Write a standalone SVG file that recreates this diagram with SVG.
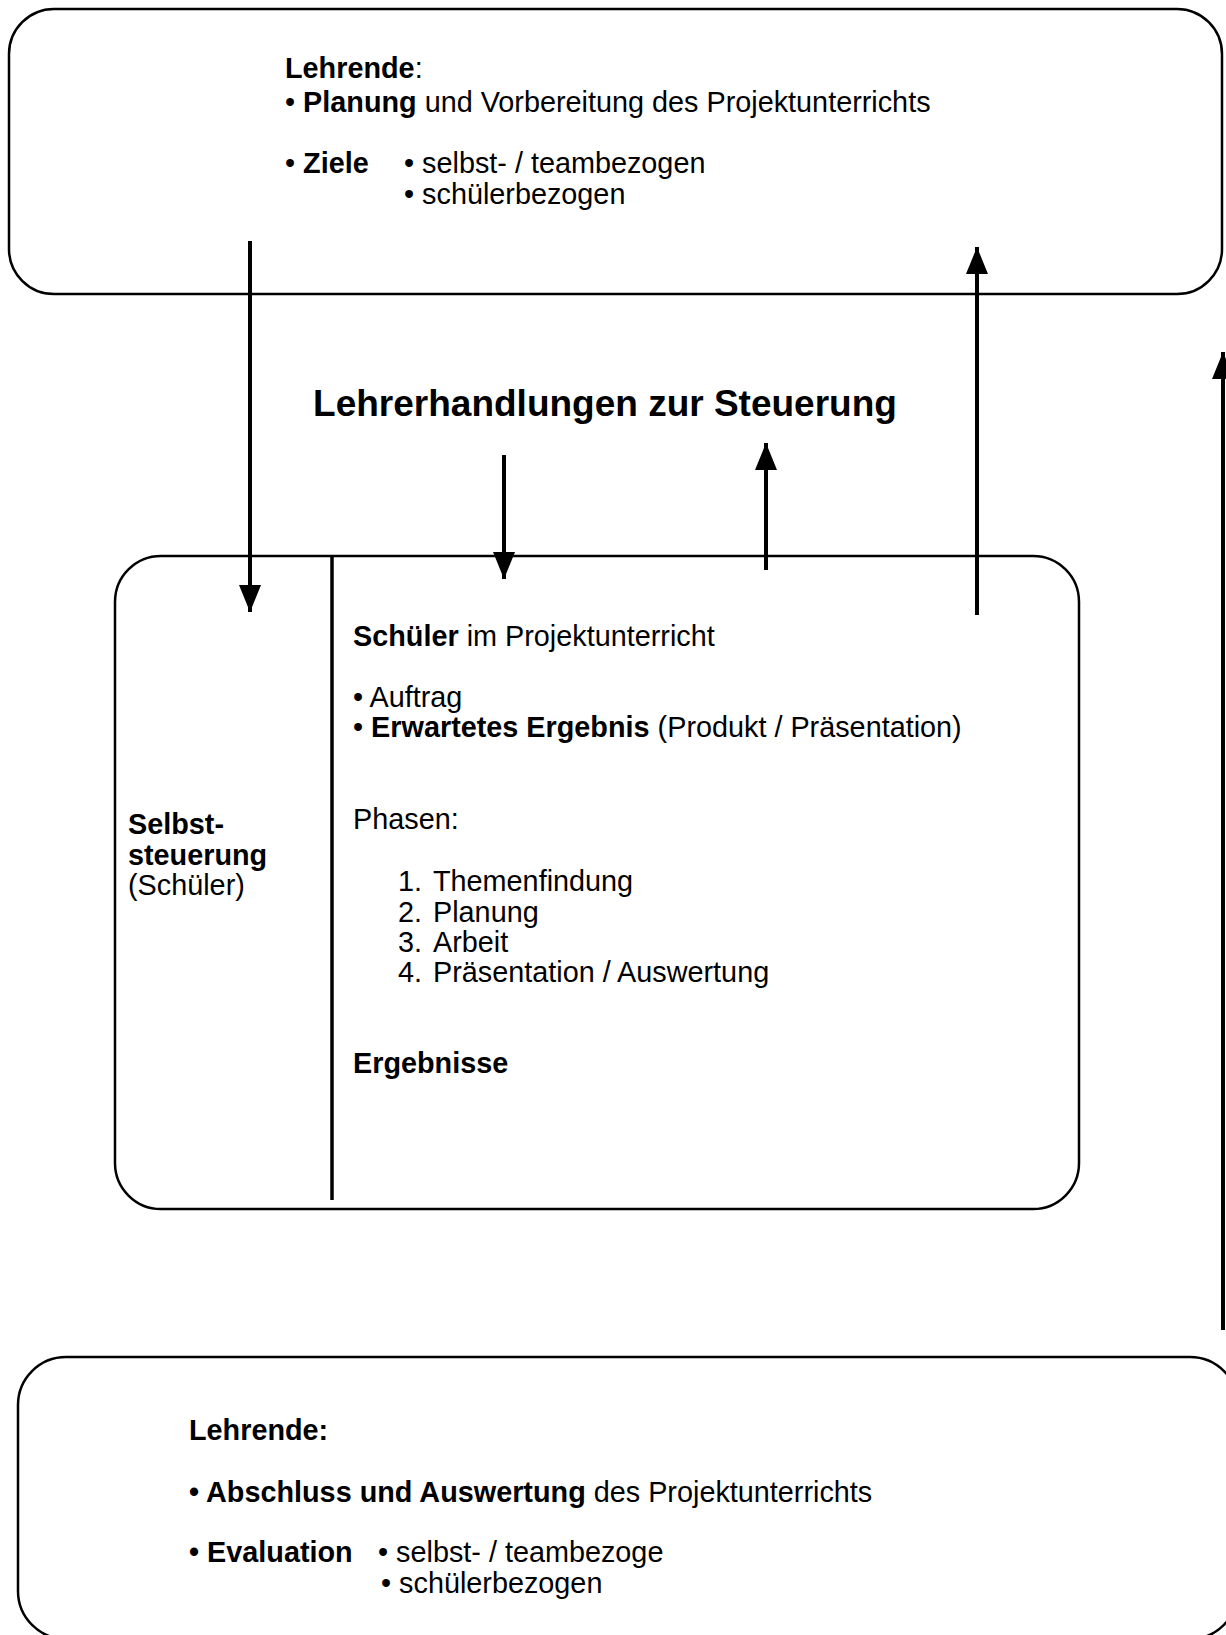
<svg xmlns="http://www.w3.org/2000/svg" width="1226" height="1635" viewBox="0 0 1226 1635">
<style>
.box{fill:none;stroke:#000;stroke-width:2.5}
.t{font-family:"Liberation Sans",Arial,sans-serif;font-size:28.8px;fill:#000}
.b{font-weight:bold}
.title{font-family:"Liberation Sans",Arial,sans-serif;font-size:37px;font-weight:bold;fill:#000}
.conn{stroke:#000;stroke-width:4;fill:none;marker-end:url(#ah)}
</style>
<defs>
<marker id="ah" markerUnits="userSpaceOnUse" markerWidth="27" markerHeight="22" refX="27" refY="11" orient="auto">
<path d="M0,0 L27,11 L0,22 z" fill="#000"/>
</marker>
</defs>
<rect width="1226" height="1635" fill="#fff"/>
<g id="top-box">
<rect class="box" x="9" y="9" width="1213" height="285" rx="45" ry="45"/>
<text class="t" x="285" y="78"><tspan class="b">Lehrende</tspan>:</text>
<text class="t" x="285" y="112">• <tspan class="b">Planung</tspan> und Vorbereitung des Projektunterrichts</text>
<text class="t" x="285" y="173">• <tspan class="b">Ziele</tspan></text>
<text class="t" x="404" y="173">• selbst- / teambezogen</text>
<text class="t" x="404" y="204">• schülerbezogen</text>
</g>
<g id="title">
<text class="title" x="605" y="416" text-anchor="middle">Lehrerhandlungen zur Steuerung</text>
</g>
<g id="middle-box">
<rect class="box" x="115" y="556" width="964" height="653" rx="46" ry="46"/>
<line x1="332" y1="556" x2="332" y2="1200" stroke="#000" stroke-width="3.5"/>
<text class="t b" x="128" y="834">Selbst-</text>
<text class="t b" x="128" y="865">steuerung</text>
<text class="t" x="128" y="895">(Schüler)</text>
<text class="t" x="353" y="646"><tspan class="b">Schüler</tspan> im Projektunterricht</text>
<text class="t" x="353" y="707">• Auftrag</text>
<text class="t" x="353" y="737">• <tspan class="b">Erwartetes Ergebnis</tspan> (Produkt / Präsentation)</text>
<text class="t" x="353" y="829">Phasen:</text>
<text class="t" x="398" y="891">1.</text><text class="t" x="433" y="891">Themenfindung</text>
<text class="t" x="398" y="922">2.</text><text class="t" x="433" y="922">Planung</text>
<text class="t" x="398" y="952">3.</text><text class="t" x="433" y="952">Arbeit</text>
<text class="t" x="398" y="982">4.</text><text class="t" x="433" y="982">Präsentation / Auswertung</text>
<text class="t b" x="353" y="1073">Ergebnisse</text>
</g>
<g id="bottom-box">
<rect class="box" x="18" y="1357" width="1220" height="282" rx="48" ry="48"/>
<text class="t b" x="189" y="1440">Lehrende:</text>
<text class="t" x="189" y="1502"><tspan class="b">• Abschluss und Auswertung</tspan> des Projektunterrichts</text>
<text class="t" x="189" y="1562"><tspan class="b">• Evaluation</tspan></text>
<text class="t" x="378" y="1562">• selbst- / teambezoge</text>
<text class="t" x="381" y="1593">• schülerbezogen</text>
</g>
<g id="connectors">
<line class="conn" x1="250" y1="241" x2="250" y2="612"/>
<line class="conn" x1="977" y1="615" x2="977" y2="247"/>
<line class="conn" x1="504" y1="455" x2="504" y2="579"/>
<line class="conn" x1="766" y1="570" x2="766" y2="443"/>
<line class="conn" x1="1223" y1="1330" x2="1223" y2="352"/>
</g>
</svg>
